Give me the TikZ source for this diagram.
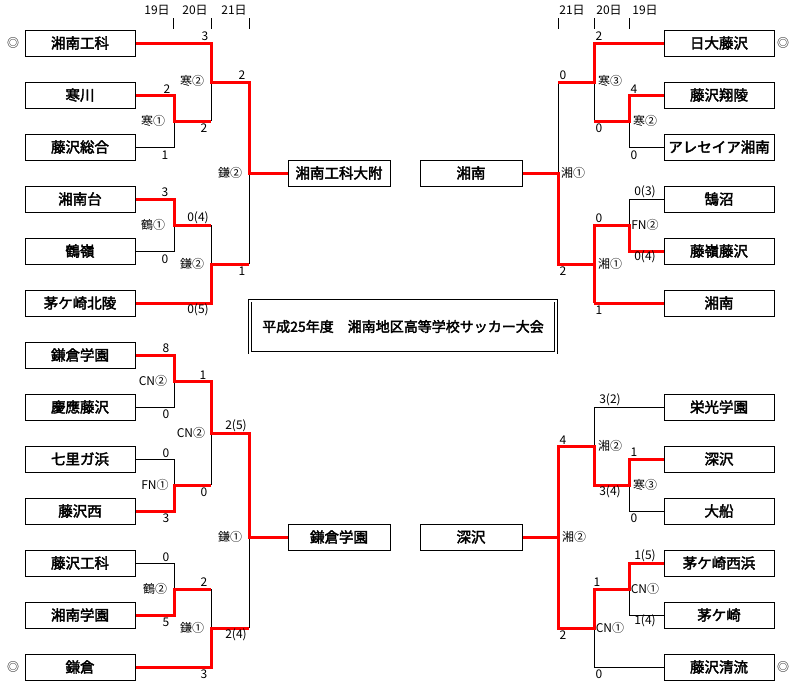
\documentclass[tikz,border=0pt]{standalone}
\usepackage{fontspec}
\setmainfont{Noto Sans CJK JP}
\newfontfamily\jpb{Noto Sans CJK JP}[FakeBold=2.5]
\begin{document}
\begin{tikzpicture}[x=1pt,y=-1pt,
  team/.style={draw,line width=1pt,minimum width=110pt,minimum height=26pt,inner sep=0pt,font=\jpb\fontsize{14.5}{14.5}\selectfont},
  fin/.style={team,minimum width=102pt},
  lb/.style={inner sep=0pt,font=\fontsize{12}{12}\selectfont},
  bk/.style={line width=1pt},
  rd/.style={line width=3pt,red}]
\useasboundingbox (0,0) rectangle (792,686);
% left teams
\foreach \n/\t/\y in {L1/湘南工科/43,L2/寒川/95,L3/藤沢総合/147,L4/湘南台/199,L5/鶴嶺/251,L6/茅ケ崎北陵/303,L7/鎌倉学園/355,L8/慶應藤沢/407,L9/七里ガ浜/459,L10/藤沢西/511,L11/藤沢工科/563,L12/湘南学園/615,L13/鎌倉/667}
  \node[team] (\n) at (80,\y) {\t};
\foreach \n/\t/\y in {R1/日大藤沢/43,R2/藤沢翔陵/95,R3/アレセイア湘南/147,R4/鵠沼/199,R5/藤嶺藤沢/251,R6/湘南/303,R7/栄光学園/407,R8/深沢/459,R9/大船/511,R10/茅ケ崎西浜/563,R11/茅ケ崎/615,R12/藤沢清流/667}
  \node[team] (\n) at (719,\y) {\t};
\node[fin] (FL1) at (339,173) {湘南工科大附};
\node[fin] (FL2) at (339,537) {鎌倉学園};
\node[fin] (FR1) at (471,173) {湘南};
\node[fin] (FR2) at (471,537) {深沢};
% title
\node[draw,double,double distance=2pt,line width=0.8pt,minimum width=306pt,minimum height=52pt,font=\jpb\fontsize{14}{14}\selectfont] (T) at (403,326.5) {平成25年度　湘南地区高等学校サッカー大会};
% marks
\foreach \p in {(13,43),(13,667),(783,43),(783,667)} \node[lb] at \p {◎};
\node[lb] at (157,10) {19日};\node[lb] at (195,10) {20日};\node[lb] at (234,10) {21日};
\node[lb] at (572,10) {21日};\node[lb] at (609,10) {20日};\node[lb] at (645,10) {19日};
\foreach \x in {173,211,249,558,594,629} \draw[bk] (\x,18) -- (\x,29);
% ---- left top
\draw[bk] (L3.east) -| (174,121);
\draw[bk] (211,82) -- (211,121);
\draw[bk] (L5.east) -| (174,225);
\draw[bk] (211,225) -- (211,264);
\draw[bk] (249,173) -- (249,264);
\draw[rd] (L1.east) -| (211,82) -| (249,173) -- (FL1.west);
\draw[rd] (L2.east) -| (174,121) -- (211,121);
\draw[rd] (L4.east) -| (174,225) -- (211,225);
\draw[rd] (L6.east) -| (211,264) -- (249,264);
% ---- left bottom
\draw[bk] (L8.east) -| (174,381);
\draw[bk] (L9.east) -| (174,485);
\draw[bk] (211,433) -- (211,485);
\draw[bk] (L11.east) -| (174,589);
\draw[bk] (211,589) -- (211,628);
\draw[bk] (249,537) -- (249,628);
\draw[rd] (L7.east) -| (174,381) -| (211,433) -| (249,537) -- (FL2.west);
\draw[rd] (L10.east) -| (174,485) -- (211,485);
\draw[rd] (L12.east) -| (174,589) -- (211,589);
\draw[rd] (L13.east) -| (211,628) -- (249,628);
% ---- right top
\draw[bk] (R3.west) -| (629,121);
\draw[bk] (594,82) -- (594,121);
\draw[bk] (R4.west) -| (629,225);
\draw[bk] (558,82) -- (558,173);
\draw[rd] (R1.west) -| (594,82) -- (558,82);
\draw[rd] (R2.west) -| (629,121) -- (594,121);
\draw[rd] (R5.west) -| (629,225) -- (594,225) -- (594,303);
\draw[rd] (R6.west) -- (594,303);
\draw[rd] (594,264) -- (558,264) -- (558,173) -- (FR1.east);
% ---- right bottom
\draw[bk] (R7.west) -| (594,446);
\draw[bk] (R9.west) -| (629,485);
\draw[bk] (R11.west) -| (629,589);
\draw[bk] (R12.west) -| (594,628);
\draw[rd] (R8.west) -| (629,485) -| (594,446) -- (558,446) -- (558,628) -- (594,628) |- (629,589) |- (R10.west);
\draw[rd] (558,537) -- (FR2.east);
% ---- labels
\foreach \x/\y/\t in {205/36/3,192/81/寒②,242/75/2,167/89/2,153/121/寒①,204/128/2,165/155/1,230/173/鎌②,165/192/3,153/225/鶴①,198/218/0(4),165/259/0,192/264/鎌②,242/271/1,198/310/0(5),
166/348/8,153/381/CN②,203/375/1,166/414/0,191/433/CN②,236/426/2(5),166/453/0,155/485/FN①,204/492/0,166/518/3,230/537/鎌①,166/557/0,155/589/鶴②,204/582/2,166/622/5,192/628/鎌①,236/635/2(4),204/674/3,
599/36/2,563/75/0,610/81/寒③,634/89/4,599/128/0,645/121/寒②,634/155/0,573/173/湘①,645/192/0(3),599/218/0,645/225/FN②,645/257/0(4),610/264/湘①,563/271/2,599/310/1,
610/400/3(2),563/440/4,610/446/湘②,634/452/1,610/492/3(4),645/485/寒③,634/518/0,574/537/湘②,645/556/1(5),597/582/1,645/589/CN①,645/621/1(4),563/635/2,610/628/CN①,599/674/0}
  \node[lb] at (\x,\y) {\t};
\end{tikzpicture}
\end{document}
